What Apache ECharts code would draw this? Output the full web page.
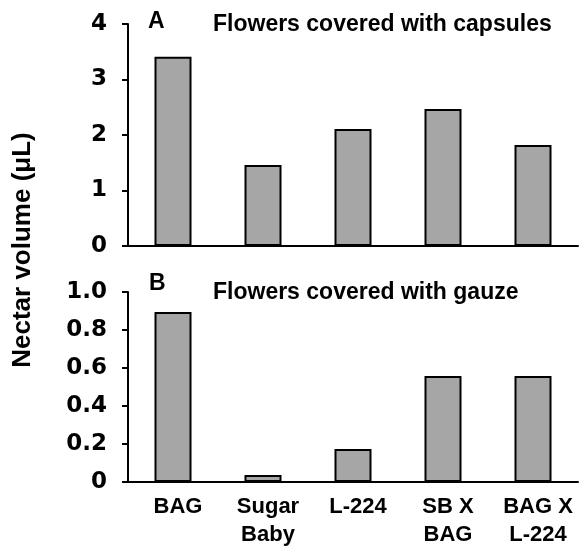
<!DOCTYPE html>
<html>
<head>
<meta charset="utf-8">
<script src="https://cdn.jsdelivr.net/npm/echarts@6/dist/echarts.min.js"></script>
<style>html,body{margin:0;padding:0;background:#fff}#c{width:587px;height:552px}</style>
</head>
<body>
<div id="c"></div>
<script>
const categories = ['BAG', 'Sugar\nBaby', 'L-224', 'SB X\nBAG', 'BAG X\nL-224'];
const capsulesValues = [3.41, 1.46, 2.11, 2.47, 1.82];
const gauzeValues = [0.895, 0.037, 0.174, 0.558, 0.558];
const capsuleTicks = [0, 1, 2, 3, 4];
const gauzeTicks = [0, 0.2, 0.4, 0.6, 0.8, 1.0];
const panelTitles = ['Flowers covered with capsules', 'Flowers covered with gauze'];
const panelLetters = ['A', 'B'];
const yTitle = 'Nectar volume (\u03bcL)';

const FONT = 'DejaVu Sans';
const SANS = 'Liberation Sans';
const chart = echarts.init(document.getElementById('c'), null, {renderer: 'canvas'});

const barStyle = {color: '#a6a6a6', borderColor: '#000', borderWidth: 2};
const axisLine = {show: true, lineStyle: {color: '#000', width: 2}};

function yAxis(gridIndex, ticks, fmt) {
  return {
    type: 'value', gridIndex,
    min: ticks[0], max: ticks[ticks.length - 1],
    interval: ticks[1] - ticks[0],
    axisLine,
    axisTick: {show: true, inside: false, length: 6, lineStyle: {color: '#000', width: 2}},
    splitLine: {show: false},
    axisLabel: {color: '#000', fontFamily: FONT, fontWeight: 'bold', fontSize: 23, margin: 21, formatter: fmt}
  };
}

chart.setOption({
  animation: false,
  grid: [
    {left: 128, top: 24, width: 450, height: 222},
    {left: 128, top: 292, width: 450, height: 190}
  ],
  xAxis: [
    {type: 'category', gridIndex: 0, data: categories, axisLine, axisTick: {show: false}, axisLabel: {show: false}},
    {type: 'category', gridIndex: 1, data: categories, axisLine, axisTick: {show: false},
     axisLabel: {color: '#000', fontFamily: SANS, fontWeight: 'bold', fontSize: 22, lineHeight: 28, margin: 11, interval: 0, padding: [0, 0, 0, 10]}}
  ],
  yAxis: [
    yAxis(0, capsuleTicks, v => String(v)),
    yAxis(1, gauzeTicks, v => v === 0 ? '0' : v.toFixed(1))
  ],
  series: [
    {type: 'bar', xAxisIndex: 0, yAxisIndex: 0, data: capsulesValues, barWidth: 37, itemStyle: barStyle},
    {type: 'bar', xAxisIndex: 1, yAxisIndex: 1, data: gauzeValues, barWidth: 37, itemStyle: barStyle}
  ],
  graphic: [
    {type: 'text', x: 148, y: 22, style: {text: panelLetters[0], font: 'bold 23px "' + SANS + '"', fill: '#000', align: 'left', verticalAlign: 'middle'}},
    {type: 'text', x: 213, y: 24.5, style: {text: panelTitles[0], font: 'bold 23px "' + SANS + '"', fill: '#000', align: 'left', verticalAlign: 'middle'}},
    {type: 'text', x: 149, y: 283.5, style: {text: panelLetters[1], font: 'bold 23px "' + SANS + '"', fill: '#000', align: 'left', verticalAlign: 'middle'}},
    {type: 'text', x: 213, y: 292.5, style: {text: panelTitles[1], font: 'bold 23px "' + SANS + '"', fill: '#000', align: 'left', verticalAlign: 'middle'}},
    {type: 'text', x: 23, y: 250, rotation: Math.PI / 2,
     style: {text: yTitle, font: 'bold 26px "' + SANS + '"', fill: '#000', align: 'center', verticalAlign: 'middle'}}
  ]
});
</script>
</body>
</html>
